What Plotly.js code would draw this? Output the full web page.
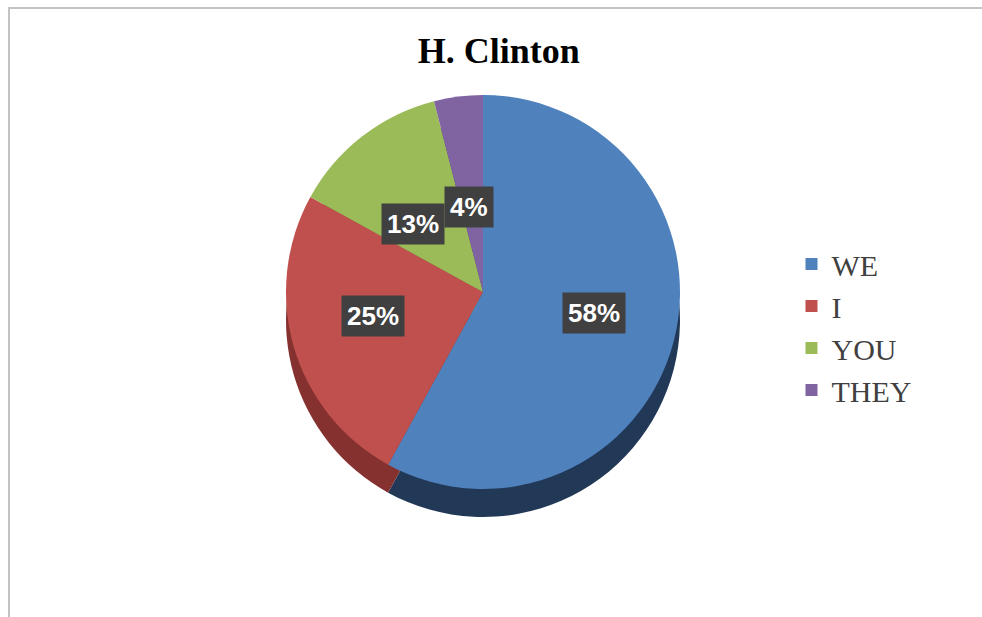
<!DOCTYPE html>
<html>
<head>
<meta charset="utf-8">
<script src="https://cdn.plot.ly/plotly-3.0.1.min.js"></script>
<style>
  html, body { margin: 0; padding: 0; background: #ffffff; }
  #wrap { position: relative; width: 982px; height: 617px; }
  #chart { width: 982px; height: 617px; }
  #frame { position: absolute; left: 8px; top: 7px; right: -2px; bottom: -2px;
           border-top: 2px solid #c3c3c3; border-left: 2px solid #c3c3c3; pointer-events: none; }
</style>
</head>
<body>
<div id="wrap">
  <div id="chart"></div>
  <div id="frame"></div>
</div>
<script>
const chartTitle = 'H. Clinton';
const labels = ['WE', 'I', 'YOU', 'THEY'];
const values = [58, 25, 13, 4];
const colors = ['#4f81bd', '#c0504d', '#9bbb59', '#8064a2'];
const sideColors = ['#213857', '#84312f', '#6a8537', '#574473'];

const W = 982, H = 617;
const cx = 483, cy = 292, R = 197, depth = 28;

function domainFor(centerY) {
  return {
    x: [(cx - R) / W, (cx + R) / W],
    y: [1 - (centerY + R) / H, 1 - (centerY - R) / H]
  };
}

const sideTrace = {
  type: 'pie',
  labels: labels,
  values: values,
  sort: false,
  direction: 'clockwise',
  rotation: 0,
  textinfo: 'none',
  hoverinfo: 'skip',
  showlegend: false,
  marker: { colors: sideColors, line: { width: 0 } },
  domain: domainFor(cy + depth)
};

const faceTrace = {
  type: 'pie',
  labels: labels,
  values: values,
  sort: false,
  direction: 'clockwise',
  rotation: 0,
  textinfo: 'none',
  hoverinfo: 'label+percent',
  marker: { colors: colors, line: { width: 0 } },
  domain: domainFor(cy)
};

const total = values.reduce((a, b) => a + b, 0);
let cum = 0;
const annotations = values.map((v, i) => {
  const mid = (cum + v / 2) / total * 2 * Math.PI;
  cum += v;
  const f = 0.58;
  const px = cx + f * R * Math.sin(mid);
  const py = cy - f * R * 0.75 * Math.cos(mid);
  return {
    xref: 'paper', yref: 'paper',
    x: px / W, y: 1 - py / H,
    xanchor: 'center', yanchor: 'middle',
    text: Math.round(v / total * 100) + '%',
    showarrow: false,
    bgcolor: '#404040',
    borderpad: 5,
    font: { family: 'Liberation Sans, Arial, sans-serif', size: 26, color: '#ffffff', weight: 'bold' }
  };
});

const layout = {
  width: W, height: H,
  margin: { l: 0, r: 0, t: 0, b: 0 },
  paper_bgcolor: '#ffffff',
  title: {
    text: chartTitle,
    x: 0.508, xanchor: 'center',
    y: 1 - 50 / H, yanchor: 'middle',
    font: { family: 'Liberation Serif, Times New Roman, serif', size: 36, color: '#000000', weight: 'bold' }
  },
  legend: {
    x: 0.806, xanchor: 'left',
    y: 0.47, yanchor: 'middle',
    font: { family: 'Liberation Serif, Times New Roman, serif', size: 30, color: '#404040' },
    bgcolor: 'rgba(0,0,0,0)'
  },
  annotations: annotations,
  showlegend: true
};

Plotly.newPlot('chart', [sideTrace, faceTrace], layout, { displayModeBar: false, staticPlot: true });
</script>
</body>
</html>
